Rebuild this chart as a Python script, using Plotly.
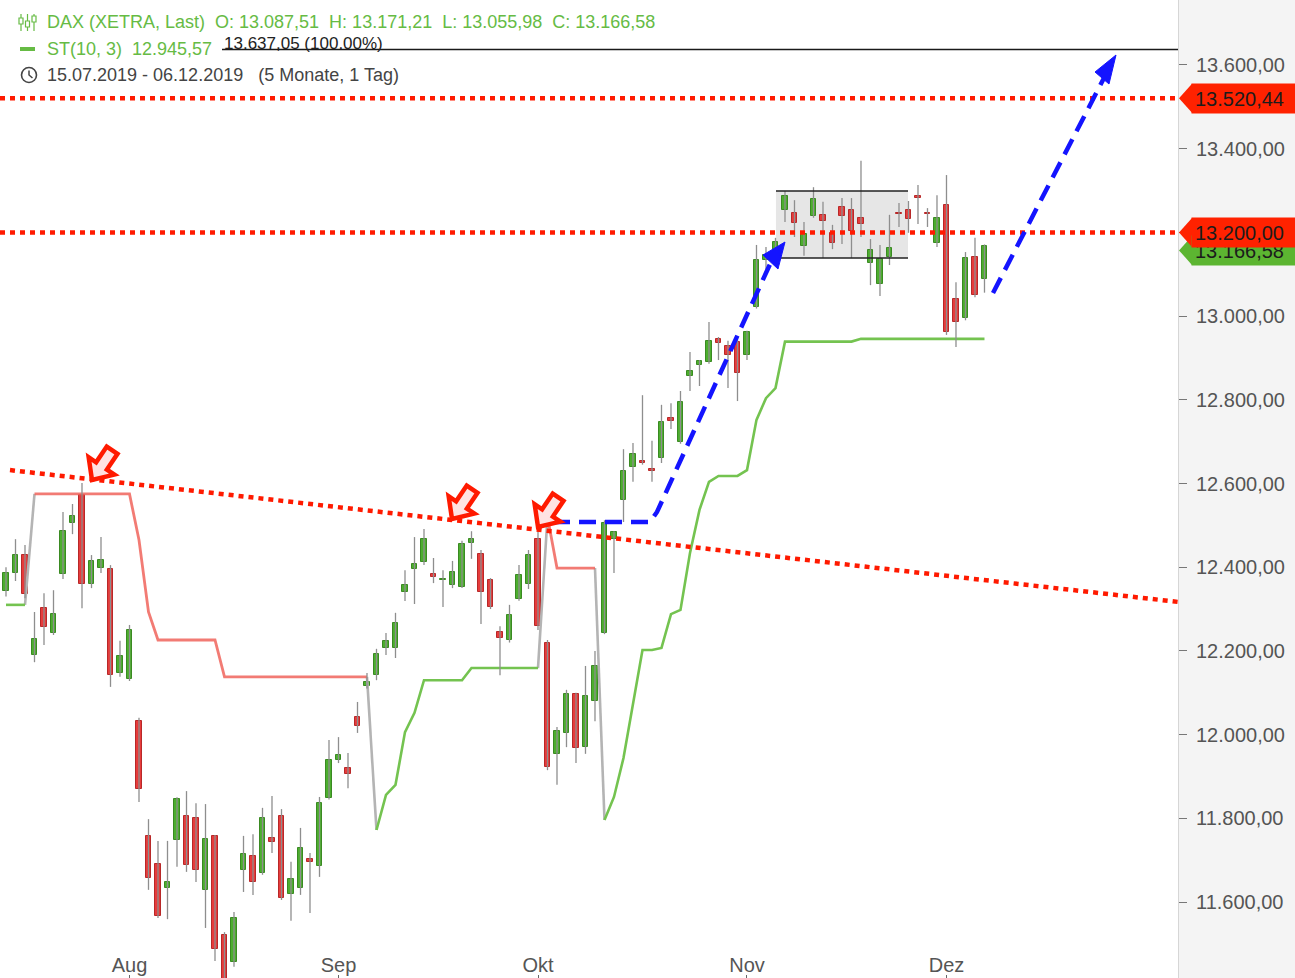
import math
import pandas as pd
import plotly.graph_objects as go

# ---------------- data ----------------
all_days = pd.bdate_range("2019-07-15", "2019-12-06")
dates = [d for d in all_days if d.strftime("%Y-%m-%d") != "2019-10-03"]
date_labels = [d.strftime("%d.%m.%Y") for d in dates]

opens = [
    12343, 12386, 12429, 12190, 12302, 12243, 12384, 12506, 12572, 12360,
    12398, 12396, 12147, 12133, 12032, 11758, 11691, 11633, 11748, 11805,
    11801, 11629, 11758, 11521, 11457, 11676, 11710, 11669, 11753, 11805,
    11619, 11633, 11703, 11686, 11849, 11939, 11920, 12042, 12116, 12142,
    12207, 12207, 12341, 12396, 12412, 12384, 12369, 12357, 12353, 12458,
    12432, 12369, 12245, 12226, 12324, 12360, 12467, 12219, 11954, 12004,
    12097, 11970, 12080, 12243, 12467, 12561, 12639, 12654, 12635, 12661,
    12757, 12699, 12857, 12883, 12890, 12945, 12929, 12938, 12907, 13022,
    13134, 13158, 13253, 13246, 13167, 13239, 13242, 13199, 13261, 13253,
    13234, 13127, 13077, 13141, 13246, 13253, 13287, 13246, 13175, 13265,
    13041, 12995, 13141, 13087.51]

highs = [
    12400, 12467, 12453, 12293, 12338, 12345, 12532, 12551, 12601, 12429,
    12472, 12405, 12224, 12262, 12040, 11798, 11746, 11746, 11850, 11865,
    11836, 11834, 11760, 11528, 11576, 11758, 11762, 11825, 11853, 11822,
    11696, 11777, 11717, 11851, 11987, 11994, 11956, 12078, 12147, 12205,
    12243, 12291, 12393, 12472, 12491, 12422, 12393, 12415, 12463, 12486,
    12441, 12374, 12259, 12310, 12405, 12441, 12496, 12226, 12018, 12107,
    12100, 12164, 12200, 12512, 12486, 12682, 12697, 12811, 12702, 12788,
    12792, 12821, 12914, 12895, 12986, 12950, 12941, 12952, 12965, 13170,
    13165, 13187, 13299, 13277, 13225, 13308, 13273, 13218, 13282, 13282,
    13371, 13184, 13170, 13242, 13270, 13275, 13313, 13258, 13289, 13337,
    13081, 13153, 13187, 13171.21]

lows = [
    12330, 12367, 12326, 12173, 12214, 12238, 12372, 12479, 12302, 12350,
    12386, 12114, 12138, 12128, 11839, 11629, 11562, 11559, 11684, 11672,
    11648, 11538, 11459, 11300, 11445, 11624, 11617, 11665, 11717, 11605,
    11555, 11617, 11574, 11660, 11845, 11932, 11872, 12004, 12110, 12130,
    12190, 12183, 12319, 12312, 12405, 12362, 12305, 12350, 12350, 12420,
    12264, 12300, 12142, 12220, 12320, 12348, 12250, 11915, 11880, 11970,
    11932, 11954, 12032, 12240, 12386, 12508, 12604, 12645, 12604, 12649,
    12730, 12695, 12821, 12833, 12886, 12895, 12828, 12797, 12895, 13018,
    13112, 13155, 13225, 13189, 13144, 13235, 13139, 13160, 13172, 13139,
    13189, 13074, 13048, 13122, 13213, 13199, 13220, 13213, 13165, 12955,
    12926, 12990, 13045, 13055.98]

closes = [
    12386, 12429, 12336, 12228, 12257, 12288, 12486, 12522, 12360, 12415,
    12417, 12142, 12188, 12250, 11870, 11657, 11567, 11648, 11846, 11688,
    11676, 11750, 11488, 11412, 11562, 11715, 11648, 11801, 11743, 11610,
    11655, 11729, 11696, 11836, 11939, 11951, 11906, 12021, 12126, 12193,
    12224, 12267, 12357, 12408, 12467, 12377, 12371, 12388, 12455, 12467,
    12341, 12305, 12231, 12286, 12381, 12429, 12259, 11923, 12009, 12097,
    11968, 12092, 12164, 12506, 12484, 12630, 12670, 12649, 12630, 12747,
    12749, 12795, 12869, 12893, 12941, 12936, 12907, 12864, 12962, 13134,
    13146, 13177, 13287, 13222, 13196, 13280, 13227, 13175, 13239, 13203,
    13220, 13158, 13136, 13163, 13244, 13232, 13282, 13244, 13234, 12962,
    12986, 13139, 13050, 13166.58]

# Supertrend ST(10, 3)
st_values = [
    12310, 12310, 12310, 12575, 12575, 12575, 12575, 12575, 12575, 12575,
    12575, 12575, 12575, 12575, 12465, 12293, 12226, 12226, 12226, 12226,
    12226, 12226, 12226, 12138, 12138, 12138, 12138, 12138, 12138, 12138,
    12138, 12138, 12138, 12138, 12138, 12138, 12138, 12138, 12138, 11772,
    11856, 11880, 12006, 12052, 12130, 12130, 12130, 12130, 12130, 12159,
    12159, 12159, 12159, 12159, 12159, 12159, 12159, 12520, 12398, 12398,
    12398, 12398, 12398, 11796, 11851, 11944, 12071, 12202, 12202, 12207,
    12288, 12298, 12434, 12537, 12604, 12618, 12618, 12618, 12632, 12752,
    12804, 12828, 12939, 12939, 12939, 12939, 12939, 12939, 12939, 12939,
    12945.57, 12945.57, 12945.57, 12945.57, 12945.57, 12945.57, 12945.57,
    12945.57, 12945.57, 12945.57, 12945.57, 12945.57, 12945.57, 12945.57]
st_trend_runs = [("up", 3), ("down", 36), ("up", 18), ("down", 6), ("up", 41)]

price_ticks = [11600, 11800, 12000, 12200, 12400, 12600, 12800, 13000,
               13200, 13400, 13600]
level_lines = [13520.44, 13200.00]          # red dotted resistance levels
fib_level = 13637.05                        # 100 % line
trend_pts = [(0.42, 12632), (123.37, 12317)]  # falling red trendline
box_range = (81.05, 94.95, 13139, 13299)    # consolidation box

month_names = {8: "Aug", 9: "Sep", 10: "Okt", 11: "Nov", 12: "Dez"}

# ---------------- helpers ----------------
def de(v):
    s = f"{v:,.2f}"
    return s.replace(",", "X").replace(".", ",").replace("X", ".")

PW, PH = 1178.0, 978.0
X_LO, X_HI = -0.632, 123.37
Y_LO, Y_HI = 11418.4, 13755.3
UNITS_PER_PX = (Y_HI - Y_LO) / PH


def dx(px):
    return X_LO + px / PW * (X_HI - X_LO)


def dy(py):
    return Y_HI - py / PH * (Y_HI - Y_LO)


def px_path(points, close=True):
    s = "M " + " L ".join(f"{dx(a):.4f},{dy(b):.3f}" for a, b in points)
    return s + (" Z" if close else "")


def pp(px, py):
    return px / PW, 1 - py / PH


n = len(dates)
x = list(range(n))
st_trend = []
for name, cnt in st_trend_runs:
    st_trend += [name] * cnt

tickvals, ticktext = [], []
for i in range(1, n):
    if dates[i].month != dates[i - 1].month:
        tickvals.append(i)
        ticktext.append(month_names[dates[i].month])

GREEN_TXT = "#66bb44"
RED = "#ff1a00"
BLUE = "#1414ff"

fig = go.Figure()

# ---------------- supertrend ----------------
gx, gy, rx, ry, tx, ty = [], [], [], [], [], []
for i in range(n):
    if st_trend[i] == "up":
        gx.append(i); gy.append(st_values[i]); rx.append(i); ry.append(None)
    else:
        rx.append(i); ry.append(st_values[i]); gx.append(i); gy.append(None)
    if i > 0 and st_trend[i] != st_trend[i - 1]:
        tx += [i - 1, i, None]
        ty += [st_values[i - 1], st_values[i], None]
fig.add_trace(go.Scatter(x=tx, y=ty, mode="lines", line=dict(color="#b4b4b4", width=2.6),
                         hoverinfo="skip"))
fig.add_trace(go.Scatter(x=gx, y=gy, mode="lines", line=dict(color="#74c350", width=2.6),
                         connectgaps=False, hoverinfo="skip"))
fig.add_trace(go.Scatter(x=rx, y=ry, mode="lines", line=dict(color="rgba(240,100,92,0.85)", width=2.8),
                         connectgaps=False, hoverinfo="skip"))

# ---------------- candles ----------------
wx, wy = [], []
for i in range(n):
    wx += [i, i, None]
    wy += [lows[i], highs[i], None]
fig.add_trace(go.Scatter(x=wx, y=wy, mode="lines", line=dict(color="#8e8e8e", width=1.3),
                         hoverinfo="skip"))

fills, edges, heights, bases = [], [], [], []
for o, c in zip(opens, closes):
    up = c >= o
    fills.append("#4cae2e" if up else "#e63b3b")
    edges.append("#3a8a22" if up else "#b82828")
    heights.append(abs(c - o))
    bases.append(min(o, c))
fig.add_trace(go.Bar(x=x, y=heights, base=bases, width=0.55,
                     marker=dict(color=fills, line=dict(color=edges, width=1)),
                     customdata=list(zip(date_labels, opens, highs, lows, closes)),
                     hovertemplate="%{customdata[0]}<br>O %{customdata[1]}<br>H %{customdata[2]}"
                                   "<br>L %{customdata[3]}<br>C %{customdata[4]}<extra></extra>"))

shapes = []
annotations = []

# right axis background
shapes.append(dict(type="rect", xref="paper", yref="paper", x0=1, x1=1.2, y0=0, y1=1,
                   fillcolor="#f4f4f4", line=dict(width=0), layer="below"))

# consolidation box
bx0, bx1, by0, by1 = box_range
shapes.append(dict(type="rect", x0=bx0, x1=bx1, y0=by0, y1=by1,
                   fillcolor="rgba(205,205,205,0.5)", line=dict(width=0), layer="below"))
for yy in (by0, by1):
    shapes.append(dict(type="line", x0=bx0, x1=bx1, y0=yy, y1=yy,
                       line=dict(color="#222222", width=1.5)))

# red dotted lines
for lv in level_lines:
    shapes.append(dict(type="line", xref="paper", x0=0, x1=1, y0=lv, y1=lv,
                       line=dict(color=RED, width=4.5, dash="5px,5px")))
shapes.append(dict(type="line", x0=trend_pts[0][0], y0=trend_pts[0][1],
                   x1=trend_pts[1][0], y1=trend_pts[1][1],
                   line=dict(color=RED, width=4.5, dash="5px,5px")))

# 100 % level line
shapes.append(dict(type="line", x0=dx(222), x1=X_HI, y0=fib_level, y1=fib_level,
                   line=dict(color="#1a1a1a", width=1.3)))
annotations.append(dict(x=dx(222), y=fib_level, xref="x", yref="y", xanchor="left",
                        yanchor="bottom", yshift=-6, showarrow=False,
                        text=f"{de(fib_level)} (100.00%)",
                        font=dict(size=17, color="#222222")))

# blue dashed projection arrows
shapes.append(dict(type="path", path=px_path([(553, 522), (650, 522), (657, 512), (771, 262)], close=False),
                   line=dict(color=BLUE, width=4.5, dash="17px,9px")))
shapes.append(dict(type="path", path=px_path([(785, 242), (763, 255), (778, 269)]),
                   fillcolor=BLUE, line=dict(color=BLUE, width=1)))
shapes.append(dict(type="path", path=px_path([(993, 293), (1104, 78)], close=False),
                   line=dict(color=BLUE, width=4.5, dash="17px,9px")))
shapes.append(dict(type="path", path=px_path([(1116, 55), (1095, 72), (1109, 84)]),
                   fillcolor=BLUE, line=dict(color=BLUE, width=1)))

# red hollow arrows marking trendline touches
phi = math.radians(34)
u = (-math.sin(phi), math.cos(phi))
p = (math.cos(phi), math.sin(phi))
local = [(-6.5, -36), (6.5, -36), (6.5, -17), (15.5, -17), (0, 0), (-15.5, -17), (-6.5, -17)]
for tip in [(92, 480), (452, 519), (538, 527)]:
    pts = [(tip[0] + a * p[0] + b * u[0], tip[1] + a * p[1] + b * u[1]) for a, b in local]
    shapes.append(dict(type="path", path=px_path(pts), fillcolor="#ffe2e2",
                       line=dict(color=RED, width=4.5)))

# price labels on the right axis: pointed tip (shape) + filled text box (annotation)
LBL_H = 14.5 * UNITS_PER_PX


def price_label(val, text, color):
    xt, xl = 1179 / PW, 1192 / PW
    shapes.append(dict(type="path", xref="paper", yref="y",
                       path=f"M {xt},{val} L {xl},{val + LBL_H} L {xl},{val - LBL_H} Z",
                       fillcolor=color, line=dict(width=0)))
    annotations.append(dict(x=1191 / PW, y=val, xref="paper", yref="y", xanchor="left",
                            yanchor="middle", showarrow=False, text=text, align="left",
                            width=100, height=23, borderpad=3, bgcolor=color,
                            font=dict(size=20, color="#1c1c1c")))


# last-price label (green) lies partly underneath the 13.200 label, as in the original
price_label(closes[-1] - 4 * UNITS_PER_PX, de(closes[-1]), "#5cb531")
price_label(level_lines[1], de(level_lines[1]), "#ff2200")
price_label(level_lines[0], de(level_lines[0]), "#ff2200")

# ---------------- header ----------------
NB = "\u00a0"
line1 = (f"DAX (XETRA, Last){NB*2}O: {de(opens[-1])}{NB*2}H: {de(highs[-1])}{NB*2}"
         f"L: {de(lows[-1])}{NB*2}C: {de(closes[-1])}")
line2 = f"ST(10, 3){NB*2}{de(st_values[-1])}"
line3 = f"{date_labels[0]} - {date_labels[-1]}{NB*3}(5 Monate, 1 Tag)"
for txt, py, col in [(line1, 22, GREEN_TXT), (line2, 49, GREEN_TXT), (line3, 75, "#444444")]:
    xp, yp = pp(45, py)
    annotations.append(dict(x=xp, y=yp, xref="paper", yref="paper", xanchor="left",
                            yanchor="middle", showarrow=False, text=txt,
                            font=dict(size=18, color=col)))

# header icons
for cx_, (b0, b1) in zip([21, 27.5, 34], [(18, 24), (21, 27), (16, 22)]):
    x0p, y0p = pp(cx_, 14)
    x1p, y1p = pp(cx_, 31)
    shapes.append(dict(type="line", xref="paper", yref="paper", x0=x0p, x1=x0p, y0=y0p, y1=y1p,
                       line=dict(color=GREEN_TXT, width=1.2)))
    ax0, ay0 = pp(cx_ - 2, b0)
    ax1, ay1 = pp(cx_ + 2, b1)
    shapes.append(dict(type="rect", xref="paper", yref="paper", x0=ax0, x1=ax1, y0=ay0, y1=ay1,
                       fillcolor="white", line=dict(color=GREEN_TXT, width=1.2)))
lx0, ly = pp(20, 49)
lx1, _ = pp(35, 49)
shapes.append(dict(type="line", xref="paper", yref="paper", x0=lx0, x1=lx1, y0=ly, y1=ly,
                   line=dict(color=GREEN_TXT, width=4)))
cx0, cy0 = pp(21.5, 67.5)
cx1, cy1 = pp(36.5, 82.5)
shapes.append(dict(type="circle", xref="paper", yref="paper", x0=cx0, x1=cx1, y0=cy0, y1=cy1,
                   line=dict(color="#444444", width=1.6)))
h0 = pp(29, 70.5); h1 = pp(29, 75); h2 = pp(32.5, 78)
shapes.append(dict(type="path", xref="paper", yref="paper",
                   path=f"M {h0[0]},{h0[1]} L {h1[0]},{h1[1]} L {h2[0]},{h2[1]}",
                   line=dict(color="#444444", width=1.5)))

fig.update_layout(
    width=1295, height=978,
    margin=dict(l=0, r=117, t=0, b=0),
    paper_bgcolor="white", plot_bgcolor="white",
    showlegend=False, bargap=0,
    font=dict(family="Liberation Sans, Arial, sans-serif"),
    shapes=shapes, annotations=annotations,
    xaxis=dict(range=[X_LO, X_HI], tickvals=tickvals, ticktext=ticktext,
               ticklabelposition="inside", ticks="inside", ticklen=3, tickcolor="#666666",
               tickfont=dict(size=20, color="#555555"), showgrid=False, zeroline=False,
               showline=False, fixedrange=True),
    yaxis=dict(range=[Y_LO, Y_HI], side="right", tickvals=price_ticks,
               ticktext=[de(v) for v in price_ticks], ticks="outside", ticklen=8,
               tickcolor="#777777", tickfont=dict(size=20, color="#555555"),
               ticklabelstandoff=5,
               showgrid=False, zeroline=False, showline=True, linecolor="#d6d6d6",
               linewidth=1, fixedrange=True),
)

fig.write_html("out.html", config={"displayModeBar": False},
               post_script="document.body.style.margin='0px';document.body.style.overflow='hidden';")
